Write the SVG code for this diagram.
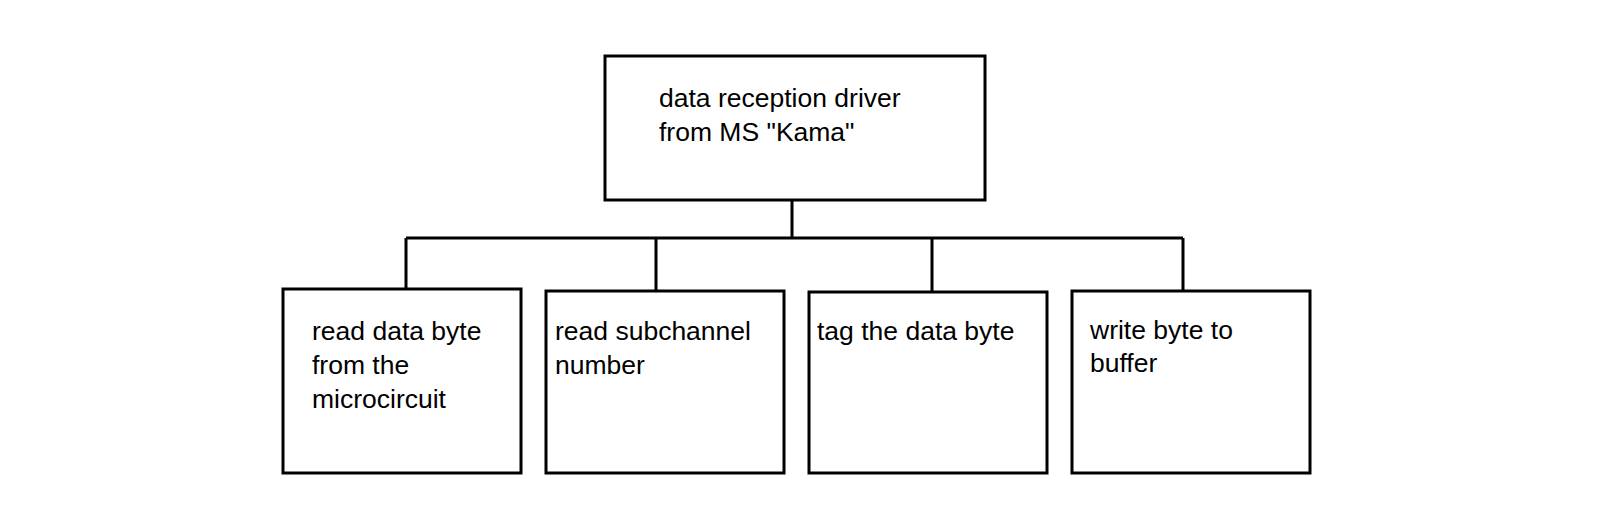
<svg xmlns="http://www.w3.org/2000/svg" width="1602" height="508" viewBox="0 0 1602 508">
<style>
.b{fill:#fff;stroke:#000;stroke-width:3}
.c{fill:none;stroke:#000;stroke-width:3}
text{font-family:"Liberation Sans",Arial,sans-serif;font-size:26.5px;fill:#000}
</style>
<rect width="1602" height="508" fill="#fff"/>
<g id="connectors">
<path class="c" d="M792 200V238M406 238H1183M406 238V289M656 238V291M932 238V292M1183 238V291"/>
</g>
<g id="root"><rect class="b" x="605" y="56" width="380" height="144"/>
<text x="659" y="107">data reception driver</text><text x="659" y="141">from MS "Kama"</text></g>
<g id="n1"><rect class="b" x="283" y="289" width="238" height="184"/>
<text x="312" y="340">read data byte</text><text x="312" y="374">from the</text><text x="312" y="408">microcircuit</text></g>
<g id="n2"><rect class="b" x="546" y="291" width="238" height="182"/>
<text x="555" y="340">read subchannel</text><text x="555" y="374">number</text></g>
<g id="n3"><rect class="b" x="809" y="292" width="238" height="181"/>
<text x="817" y="340">tag the data byte</text></g>
<g id="n4"><rect class="b" x="1072" y="291" width="238" height="182"/>
<text x="1090" y="339">write byte to</text><text x="1090" y="372">buffer</text></g>
</svg>
